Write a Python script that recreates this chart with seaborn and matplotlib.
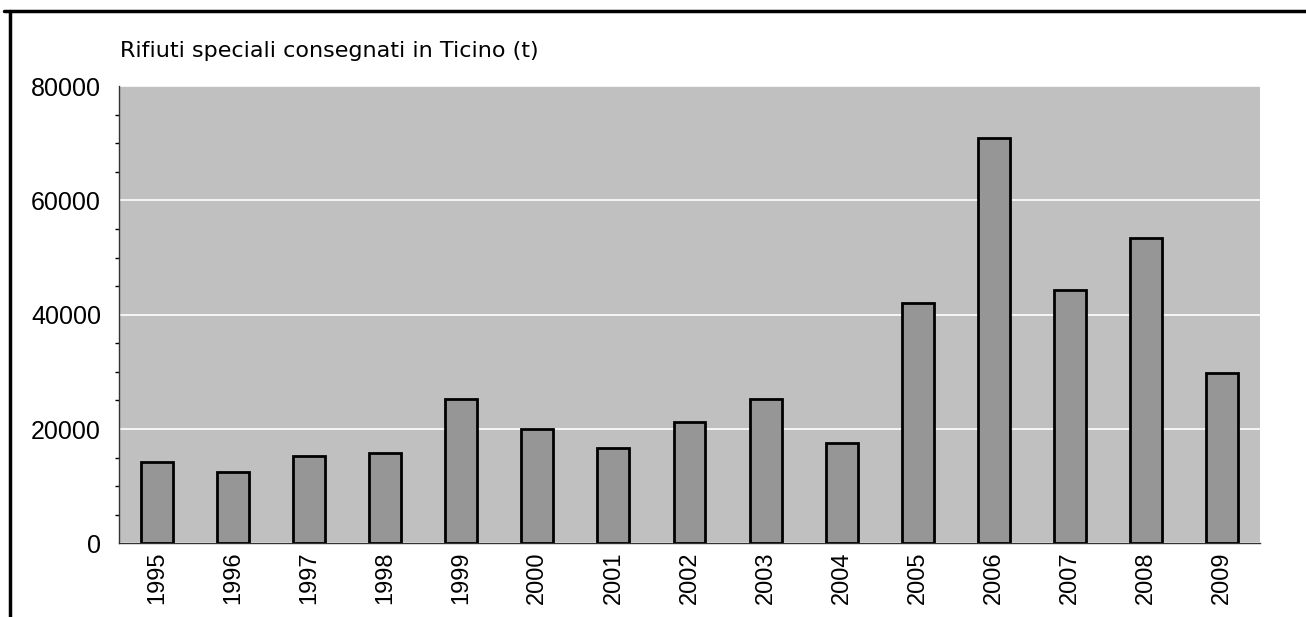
import pandas as pd
import matplotlib
matplotlib.use("Agg")
import matplotlib.pyplot as plt
from matplotlib.lines import Line2D
from matplotlib.ticker import MultipleLocator, FixedLocator
import seaborn as sns

years = ["1995", "1996", "1997", "1998", "1999", "2000", "2001", "2002",
         "2003", "2004", "2005", "2006", "2007", "2008", "2009"]
tonnes = [14300, 12500, 15300, 15800, 25200, 20000, 16700, 21300,
          25200, 17500, 42000, 70900, 44400, 53400, 29800]
ylabel = "Rifiuti speciali consegnati in Ticino (t)"

df = pd.DataFrame({"anno": years, "t": tonnes})

sns.set_style("white", {"axes.facecolor": "#C0C0C0", "text.color": "black",
                        "xtick.color": "black", "ytick.color": "black"})
plt.rcParams["font.family"] = ["Liberation Sans", "DejaVu Sans"]

fig = plt.figure(figsize=(13.06, 6.17), dpi=100)
ax = fig.add_axes([0.0911, 0.1194, 0.8737, 0.7412])

sns.barplot(data=df, x="anno", y="t", color="#969696", edgecolor="black",
            linewidth=2, width=0.42, saturation=1, ax=ax, zorder=3)

ax.set_ylim(0, 80000)
ax.set_xlim(-0.5, len(years) - 0.5)
ax.yaxis.set_major_locator(MultipleLocator(20000))
ax.yaxis.set_minor_locator(MultipleLocator(5000))
ax.grid(axis="y", which="major", color="white", linewidth=1.2, zorder=1)
ax.set_axisbelow(True)

# ticks on the category boundaries, labels in the middle
ax.xaxis.set_major_locator(FixedLocator([i - 0.5 for i in range(len(years) + 1)]))
ax.xaxis.set_minor_locator(FixedLocator(list(range(len(years)))))
ax.set_xticklabels([""] * (len(years) + 1))
ax.set_xticklabels(years, minor=True, rotation=90)
ax.set_yticks([0, 20000, 40000, 60000, 80000])
ax.set_yticklabels(["0", "20000", "40000", "60000", "80000"])

ax.tick_params(axis="x", which="major", length=4.5, width=1, color="black", direction="out")
ax.tick_params(axis="x", which="minor", length=0, labelsize=17, pad=6, labelcolor="black")
ax.tick_params(axis="y", which="major", length=5, width=1, color="black",
               direction="out", labelsize=18, pad=8, labelcolor="black")
ax.tick_params(axis="y", which="minor", length=3, width=1, color="black", direction="out", left=True)

for lbl in ax.get_xticklabels(minor=True) + ax.get_yticklabels():
    lbl.set_fontfamily("Liberation Sans")

for s in ["top", "right"]:
    ax.spines[s].set_visible(False)
for s in ["left", "bottom"]:
    ax.spines[s].set_color("#333333")
    ax.spines[s].set_linewidth(1)

ax.set_xlabel("")
ax.set_ylabel("")
fig.text(120 / 1306, 1 - 51 / 617, ylabel, fontsize=16, family="DejaVu Sans",
         color="black", ha="left", va="center")

# frame of the original chart (cropped)
fig.add_artist(Line2D([4 / 1306, 1], [1 - 11 / 617] * 2, color="black", linewidth=2.5,
                      transform=fig.transFigure))
fig.add_artist(Line2D([10 / 1306] * 2, [0, 1 - 11 / 617], color="black", linewidth=2.5,
                      transform=fig.transFigure))

fig.savefig("out.png", dpi=100)
